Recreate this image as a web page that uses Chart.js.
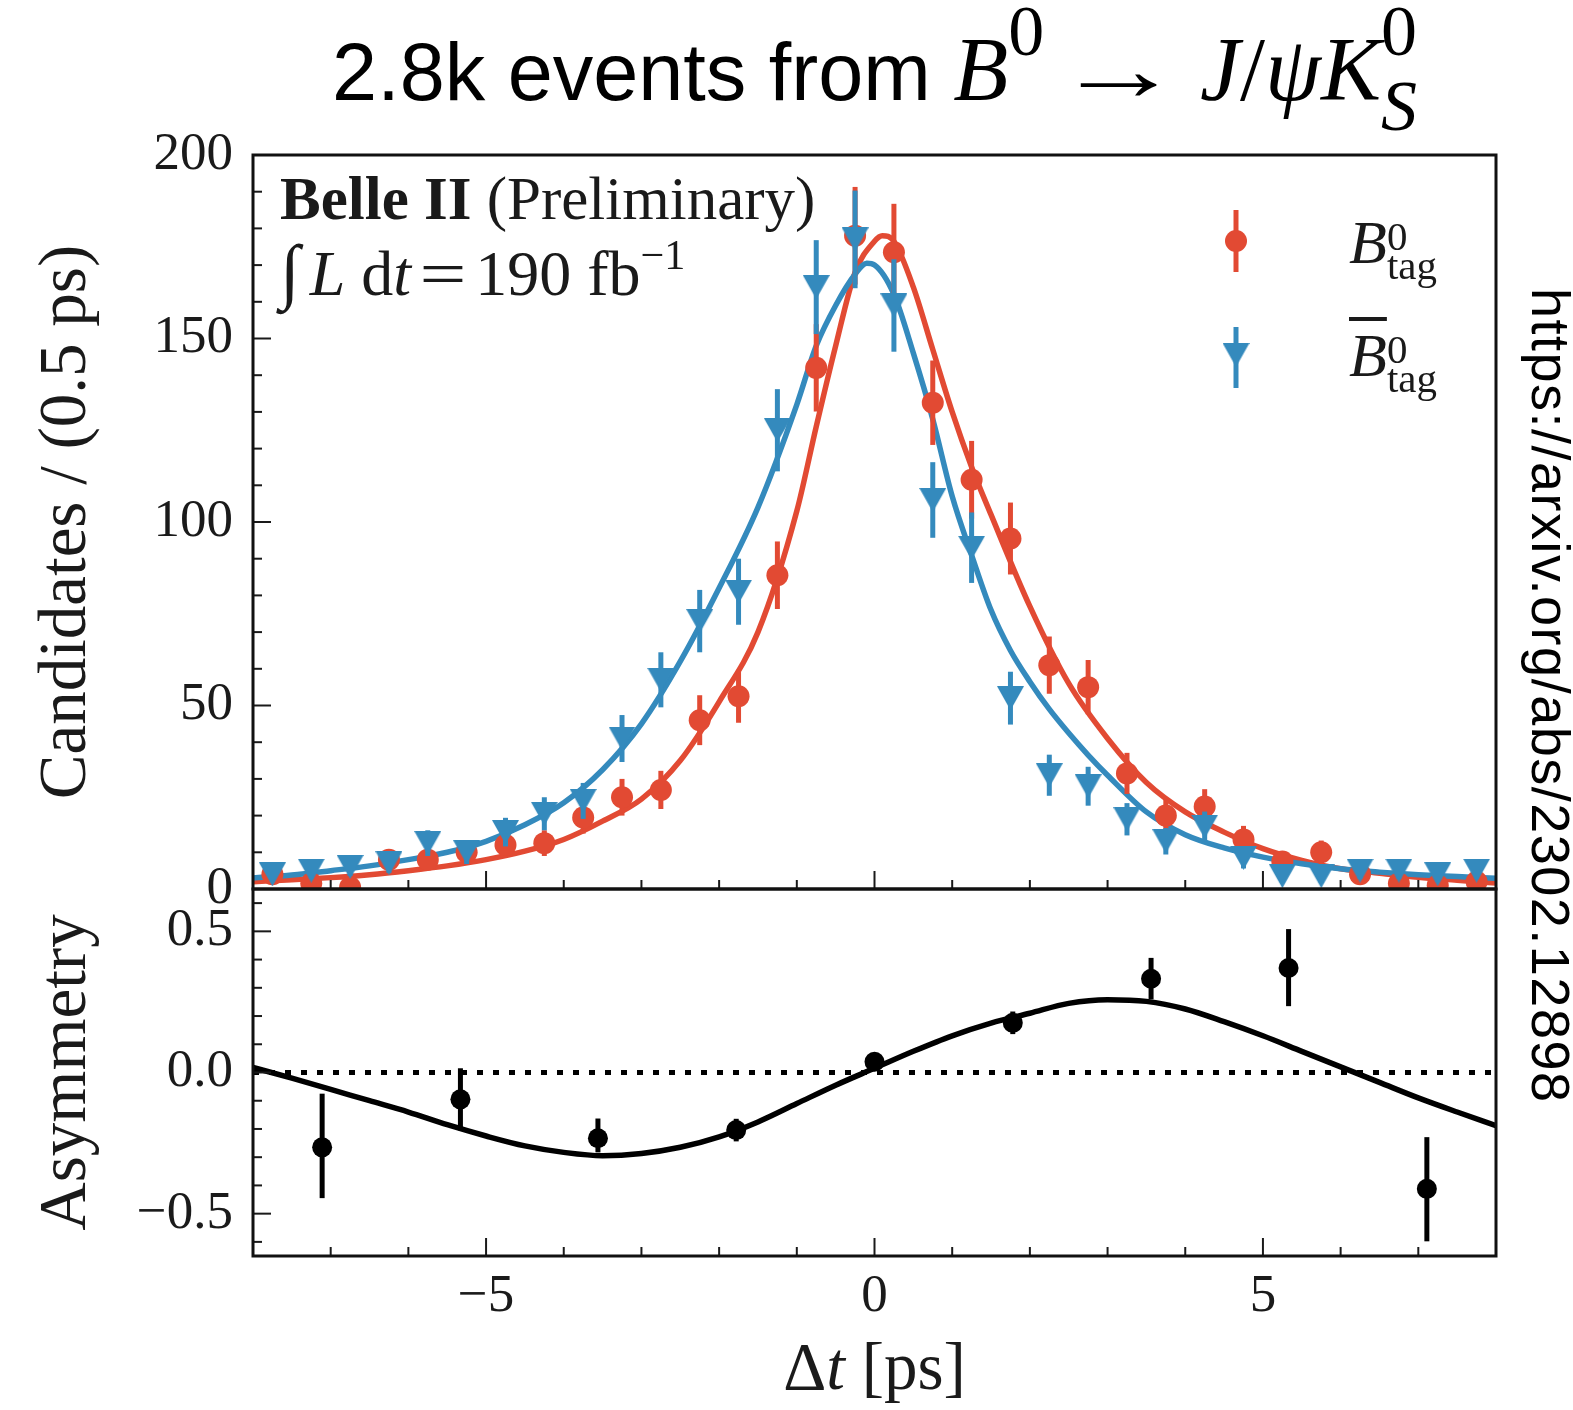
<!DOCTYPE html>
<html>
<head>
<meta charset="utf-8">
<script src="https://cdn.jsdelivr.net/npm/chart.js@4.4.1/dist/chart.umd.min.js"></script>
<style>
html, body { margin: 0; padding: 0; background: #fff; }
#wrap { position: relative; width: 1573px; height: 1410px; overflow: hidden; }
#c { position: absolute; left: 0; top: 0; }
.txt { position: absolute; white-space: nowrap; color: #1a1a1a; line-height: 1;
       font-family: "Liberation Serif", "DejaVu Serif", serif; }
#title { left: 253px; width: 1243px; text-align: center; top: -6px; color: #000; font-size: 90px; }
#title .sans { font-family: "Liberation Sans", Arial, sans-serif; font-size: 81px; }
#title .sup { font-size: 0.8em; vertical-align: 0.62em; }
#title .arr { display: inline-block; transform: scaleX(1.42); margin: 0 0.4em 0 0.33em; }
.ss { display: inline-flex; flex-direction: column; text-align: left; }
#title .ss { font-size: 0.8em; line-height: 1.04; vertical-align: 0.62em; }
.leg { font-size: 62px; left: 1349px; }
.leg .ss { font-size: 0.66em; line-height: 0.7; vertical-align: 0.32em; }
.ov { text-decoration: overline; text-decoration-thickness: 4px; }
#belle { left: 280px; top: 168px; font-size: 61px; }
#lumi { left: 280px; top: 234px; font-size: 64px; }
#lumi .intg { font-size: 72px; font-style: italic; margin-right: 10px; }
#lumi .eq { display: inline-block; transform: scaleX(1.3); margin: 0 14px; }
#lumi .sup1 { font-size: 0.66em; vertical-align: 0.62em; }
#xtitle { left: 253px; width: 1243px; text-align: center; top: 1333px; font-size: 67px; }
#url { position: absolute; left: 1524px; top: 288px; writing-mode: vertical-rl;
       font-family: "Liberation Sans", Arial, sans-serif; font-size: 54px; line-height: 54px;
       letter-spacing: 1.5px; color: #000; white-space: nowrap; }
</style>
</head>
<body>
<div id="wrap">
  <canvas id="c" width="1573" height="1410"></canvas>
  <div id="title" class="txt"><span class="sans">2.8k events from </span><i>B</i><span class="sup">0</span><span class="arr">→</span><i>J</i>/<i>ψK</i><span class="ss"><span>0</span><i>S</i></span></div>
  <div id="belle" class="txt"><b>Belle II</b> (Preliminary)</div>
  <div id="lumi" class="txt"><span class="intg">∫</span><i>L</i> d<i>t</i><span class="eq">=</span>190 fb<span class="sup1">−1</span></div>
  <div class="txt leg" style="top:211px;"><i>B</i><span class="ss"><span>0</span><span>tag</span></span></div>
  <div class="txt leg" style="top:324px;"><i class="ov">B</i><span class="ss"><span>0</span><span>tag</span></span></div>
  <div id="xtitle" class="txt">Δ<i>t</i> [ps]</div>
  <div id="url">https://arxiv.org/abs/2302.12898</div>
</div>
<script>
// binned Δt distributions, 0.5 ps bins
const binCenters = [-7.75,-7.25,-6.75,-6.25,-5.75,-5.25,-4.75,-4.25,-3.75,-3.25,-2.75,-2.25,-1.75,-1.25,-0.75,-0.25,
                    0.25,0.75,1.25,1.75,2.25,2.75,3.25,3.75,4.25,4.75,5.25,5.75,6.25,6.75,7.25,7.75];
const bTagCounts = [4,1.5,0.5,8,8,10,12,12.5,19.5,25,27,46,52.5,85.5,142,178,
                    173.5,132.5,111.5,95.5,61,55,31.5,20,22.5,13.5,7.5,10,4,1.5,1,2];
const bTagErrors = [2,1.2,0.7,2.8,2.8,3.2,3.5,3.5,4.4,5,5.2,6.8,7.2,9.2,11.9,13.3,
                    13.2,11.5,10.6,9.8,7.8,7.4,5.6,4.5,4.7,3.7,2.7,3.2,2,1.2,1,1.4];
const bbarTagCounts = [4,5,6,7,12.5,10,15.5,20.5,24,41,57,73,81,125,164,177,
                       159,106,93,52,31,28,19,13,17,8.5,3.5,3.5,5,5,4,5];
const bbarTagErrors = [2,2.2,2.4,2.6,3.5,3.2,3.9,4.5,4.9,6.4,7.5,8.5,9,11.2,12.8,13.3,
                       12.6,10.3,9.6,7.2,5.6,5.3,4.4,3.6,4.1,2.9,1.9,1.9,2.2,2.2,2,2.2];

// fit curves
const bTagFitX = [-8,-7.5,-7,-6.5,-6,-5.5,-5,-4.5,-4,-3.5,-3,-2.5,-2,-1.5,-1,-0.75,-0.5,-0.25,0,0.1,
                  0.25,0.5,0.75,1,1.25,1.5,2,2.5,3,3.5,4,4.5,5,5.5,6,6.5,7,7.5,8];
const bTagFit = [2,2.5,3.1,3.9,5,6.3,8,10.3,13.5,18.5,24.5,35,51,70,103,126,148,168,176.5,178,
                 176.5,164,147,130,115,102,77,56,41,29,21,15.5,11,7.8,5.5,4.3,3.2,2.4,1.6];
const bbarTagFitX = [-8,-7.5,-7,-6.5,-6,-5.5,-5,-4.5,-4,-3.5,-3,-2.5,-2,-1.5,-1,-0.75,-0.5,-0.25,-0.1,0,
                     0.25,0.5,0.75,1,1.25,1.5,1.75,2,2.25,2.5,2.75,3,3.5,4,4.5,5,5.5,6,6.5,7,7.5,8];
const bbarTagFit = [3,3.8,5,6.3,8,10,13,17.5,23.5,32.5,45,62,82,104,132,148,159,167.5,170.5,170,
                    162,146,128,107,91,76,65,56.5,49,42.5,36.5,31,21,14.8,11.2,8.7,6.9,5.5,4.6,3.9,3.4,2.9];

// asymmetry panel
const asymBinCenters = [-7.11,-5.33,-3.56,-1.78,0,1.78,3.56,5.33,7.11];
const asymValues = [-0.265,-0.095,-0.233,-0.204,0.038,0.176,0.332,0.37,-0.412];
const asymErrLow = [0.18,0.11,0.05,0.04,0.02,0.04,0.073,0.135,0.186];
const asymErrHigh = [0.19,0.11,0.07,0.04,0.02,0.04,0.074,0.138,0.183];
const asymFitX = [-8,-7.5,-7,-6.5,-6,-5.5,-5,-4.5,-4,-3.5,-3,-2.5,-2,-1.5,-1,-0.5,0,
                  0.5,1,1.5,2,2.5,3,3.5,4,4.5,5,5.5,6,6.5,7,7.5,8];
const asymFit = [0.018,-0.02,-0.06,-0.10,-0.14,-0.185,-0.225,-0.26,-0.283,-0.295,-0.287,-0.265,-0.228,-0.175,-0.11,-0.045,0.015,
                 0.075,0.13,0.175,0.21,0.245,0.258,0.252,0.225,0.18,0.13,0.075,0.02,-0.035,-0.09,-0.14,-0.188];

// axes
const xRange = [-8, 8];
const countRange = [0, 200];
const asymRange = [-0.65, 0.65];
const xTickValues = [-5, 0, 5];
const countTickValues = [0, 50, 100, 150, 200];
const asymTickValues = [-0.5, 0, 0.5];

const COL_B = '#E24A33';
const COL_BBAR = '#348ABD';
const INK = '#1a1a1a';

const pts = (xs, ys) => xs.map((x, i) => ({x: x, y: ys[i]}));
const minus = s => String(s).replace('-', '\u2212');

// downward triangle marker, centred on its box like the matplotlib 'v'
function makeTriangle(color, w, h) {
  const c = document.createElement('canvas');
  c.width = w; c.height = h;
  const g = c.getContext('2d');
  g.fillStyle = color;
  g.beginPath();
  g.moveTo(0, 0); g.lineTo(w, 0); g.lineTo(w / 2, h);
  g.closePath(); g.fill();
  return c;
}
const triDown = makeTriangle(COL_BBAR, 27, 24);

// error bars under each marker set, ticks and frames on top
const panelPlugin = {
  id: 'panelPlugin',
  beforeDatasetDraw(chart, args) {
    const ds = chart.data.datasets[args.index];
    if (!ds.errLow) return;
    const ctx = chart.ctx, xs = chart.scales.x, ys = chart.scales[ds.yAxisID];
    ctx.save();
    ctx.beginPath();
    ctx.rect(xs.left, ys.top, xs.right - xs.left, ys.bottom - ys.top);
    ctx.clip();
    ctx.strokeStyle = ds.errColor;
    ctx.lineWidth = ds.errWidth;
    ds.data.forEach((p, i) => {
      const px = xs.getPixelForValue(p.x);
      ctx.beginPath();
      ctx.moveTo(px, ys.getPixelForValue(p.y - ds.errLow[i]));
      ctx.lineTo(px, ys.getPixelForValue(p.y + ds.errHigh[i]));
      ctx.stroke();
    });
    ctx.restore();
  },
  afterDraw(chart) {
    const ctx = chart.ctx, xs = chart.scales.x;
    const yTop = chart.scales.y, yBot = chart.scales.yA;
    ctx.save();
    ctx.strokeStyle = INK;
    ctx.lineWidth = 2;
    const tick = (x1, y1, x2, y2) => { ctx.beginPath(); ctx.moveTo(x1, y1); ctx.lineTo(x2, y2); ctx.stroke(); };

    // y ticks, inward
    for (let v = countRange[0]; v <= countRange[1]; v += 10) {
      const py = yTop.getPixelForValue(v);
      tick(xs.left, py, xs.left + (v % 50 === 0 ? 18 : 9), py);
    }
    for (let k = -6; k <= 6; k++) {
      const py = yBot.getPixelForValue(k / 10);
      tick(xs.left, py, xs.left + (k % 5 === 0 ? 18 : 9), py);
    }
    // x ticks on the bottom of both panels
    for (let v = xRange[0] + 1; v < xRange[1]; v++) {
      const px = xs.getPixelForValue(v);
      const len = xTickValues.includes(v) ? 18 : 9;
      tick(px, yTop.bottom, px, yTop.bottom - len);
      tick(px, yBot.bottom, px, yBot.bottom - len);
    }

    // frames
    ctx.lineWidth = 3;
    ctx.strokeStyle = '#111';
    [yTop, yBot].forEach(s => ctx.strokeRect(xs.left, s.top, xs.right - xs.left, s.bottom - s.top));

    // legend markers
    const lx = xs.right - 260;
    const ly1 = yTop.top + 86, ly2 = yTop.top + 200;
    ctx.lineWidth = 5;
    ctx.strokeStyle = COL_B;
    tick(lx, ly1 - 31, lx, ly1 + 31);
    ctx.fillStyle = COL_B;
    ctx.beginPath(); ctx.arc(lx, ly1, 11, 0, Math.PI * 2); ctx.fill();
    ctx.strokeStyle = COL_BBAR;
    tick(lx, ly2 - 28, lx, ly2 + 33);
    ctx.drawImage(triDown, lx - 13.5, ly2 - 12);
    ctx.restore();
  }
};

const tickFont = {family: 'Liberation Serif', size: 53};
const titleFont = {family: 'Liberation Serif', size: 67};

new Chart(document.getElementById('c'), {
  type: 'scatter',
  data: {
    datasets: [
      { label: 'Bbar0 tag', data: pts(binCenters, bbarTagCounts), yAxisID: 'y',
        errLow: bbarTagErrors, errHigh: bbarTagErrors, errColor: COL_BBAR, errWidth: 5,
        pointStyle: triDown, pointRadius: 13, pointBorderWidth: 0, clip: 0 },
      { label: 'B0 tag', data: pts(binCenters, bTagCounts), yAxisID: 'y',
        errLow: bTagErrors, errHigh: bTagErrors, errColor: COL_B, errWidth: 5,
        pointStyle: 'circle', pointRadius: 11, pointBackgroundColor: COL_B, pointBorderColor: COL_B,
        pointBorderWidth: 0, clip: 0 },
      { label: 'Asymmetry', data: pts(asymBinCenters, asymValues), yAxisID: 'yA',
        errLow: asymErrLow, errHigh: asymErrHigh, errColor: '#000', errWidth: 5,
        pointStyle: 'circle', pointRadius: 10, pointBackgroundColor: '#000', pointBorderColor: '#000',
        pointBorderWidth: 0 },
      { type: 'line', label: 'Asymmetry fit', data: pts(asymFitX, asymFit), yAxisID: 'yA',
        borderColor: '#000', borderWidth: 5.5, pointRadius: 0, fill: false, cubicInterpolationMode: 'monotone' },
      { type: 'line', label: 'zero', data: pts(xRange, [0, 0]), yAxisID: 'yA',
        borderColor: '#000', borderWidth: 5, borderDash: [6, 10], pointRadius: 0, fill: false },
      { type: 'line', label: 'Bbar0 fit', data: pts(bbarTagFitX, bbarTagFit), yAxisID: 'y',
        borderColor: COL_BBAR, borderWidth: 5.5, pointRadius: 0, fill: false,
        cubicInterpolationMode: 'monotone', clip: 0 },
      { type: 'line', label: 'B0 fit', data: pts(bTagFitX, bTagFit), yAxisID: 'y',
        borderColor: COL_B, borderWidth: 5.5, pointRadius: 0, fill: false,
        cubicInterpolationMode: 'monotone', clip: 0 }
    ]
  },
  options: {
    responsive: false,
    animation: false,
    events: [],
    layout: { padding: { left: 0, top: 155, right: 77, bottom: 0 } },
    plugins: { legend: { display: false }, tooltip: { enabled: false } },
    scales: {
      x: {
        type: 'linear', position: 'bottom', min: xRange[0], max: xRange[1],
        grid: { display: false, drawTicks: false }, border: { display: false },
        ticks: { font: tickFont, color: INK, padding: 9, autoSkip: false, maxRotation: 0,
                 callback: v => minus(v) },
        afterBuildTicks: s => { s.ticks = xTickValues.map(v => ({value: v})); },
        afterFit: s => { s.height = 154; }
      },
      yA: {
        type: 'linear', position: 'left', stack: 'panels', stackWeight: 1,
        min: asymRange[0], max: asymRange[1],
        grid: { display: false, drawTicks: false }, border: { display: false },
        ticks: { font: tickFont, color: INK, padding: 20, callback: v => minus(v.toFixed(1)) },
        afterBuildTicks: s => { s.ticks = asymTickValues.map(v => ({value: v})); },
        afterFit: s => { s.width = 253; },
        title: { display: true, text: 'Asymmetry', font: titleFont, color: INK, padding: { top: 27, bottom: 0 } }
      },
      y: {
        type: 'linear', position: 'left', stack: 'panels', stackWeight: 2,
        min: countRange[0], max: countRange[1],
        grid: { display: false, drawTicks: false }, border: { display: false },
        ticks: { font: tickFont, color: INK, padding: 20, callback: v => String(v) },
        afterBuildTicks: s => { s.ticks = countTickValues.map(v => ({value: v})); },
        afterFit: s => { s.width = 253; },
        title: { display: true, text: 'Candidates / (0.5 ps)', font: titleFont, color: INK, padding: { top: 27, bottom: 0 } }
      }
    }
  },
  plugins: [panelPlugin]
});
</script>
</body>
</html>
